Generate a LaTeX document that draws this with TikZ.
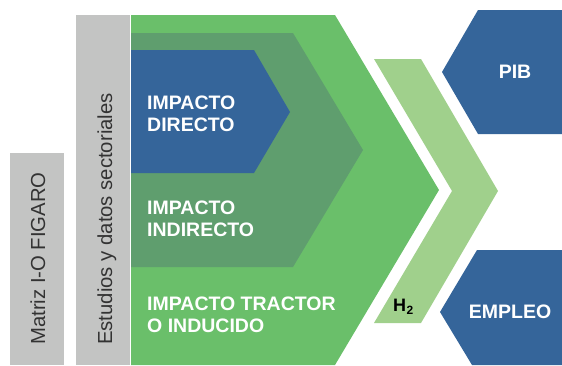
\documentclass[tikz,border=0pt]{standalone}
\usepackage{fontspec}
\setmainfont{Liberation Sans}
\definecolor{bgreen}{RGB}{106,191,106}
\definecolor{mgreen}{RGB}{95,158,110}
\definecolor{dblue}{RGB}{53,101,154}
\definecolor{lgreen}{RGB}{160,208,140}
\definecolor{lgray}{RGB}{195,196,195}
\tikzset{
  whitelbl/.style={text=white,font=\fontsize{19.5}{22}\selectfont\bfseries,align=left,inner sep=0pt,anchor=west},
  sidelbl/.style={text=black!80,font=\fontsize{20.3}{24}\selectfont,inner sep=0pt,rotate=90,anchor=base west},
  outlbl/.style={text=white,font=\fontsize{19.5}{22}\selectfont\bfseries,inner sep=0pt}
}
\begin{document}
\begin{tikzpicture}[x=1pt,y=-1pt]
\useasboundingbox (0,0) rectangle (562,365);
% gray bars
\fill[lgray] (10,153) rectangle (64,365);
\fill[lgray] (76,15) rectangle (130,365);
% big green
\fill[bgreen] (131,15) -- (335,15) -- (439,190) -- (335,365) -- (131,365) -- cycle;
% medium green
\fill[mgreen] (131,33) -- (293,33) -- (363,150) -- (293,267) -- (131,267) -- cycle;
% blue direct
\fill[dblue] (131,50) -- (254,50) -- (290,112) -- (254,173) -- (131,173) -- cycle;
% light green chevron
\fill[lgreen] (374,59) -- (421,59) -- (498,191) -- (421,323) -- (374,323) -- (452,191) -- cycle;
% output pentagons
\fill[dblue] (562,10) -- (478,10) -- (442,72) -- (478,134) -- (562,134) -- cycle;
\fill[dblue] (562,250) -- (477,250) -- (440,312) -- (472,365) -- (562,365) -- cycle;
% texts
\node[sidelbl] (matriz) at (45,345) {Matriz I-O FIGARO};
\node[sidelbl] (estudios) at (112,345) {Estudios y datos sectoriales};
\node[whitelbl] (directo) at (147,114) {IMPACTO\\DIRECTO};
\node[whitelbl] (indirecto) at (147,219) {IMPACTO\\INDIRECTO};
\node[whitelbl] (tractor) at (147,315) {IMPACTO TRACTOR\\O INDUCIDO};
\node[outlbl] (pib) at (515,72) {PIB};
\node[outlbl] (empleo) at (510,312) {EMPLEO};
\node[font=\fontsize{18}{20}\selectfont\bfseries,inner sep=0pt,anchor=base west] (h2) at (393,311) {H\kern0.5pt\raisebox{-3.5pt}{\fontsize{12}{14}\selectfont\bfseries 2}};
\end{tikzpicture}
\end{document}
